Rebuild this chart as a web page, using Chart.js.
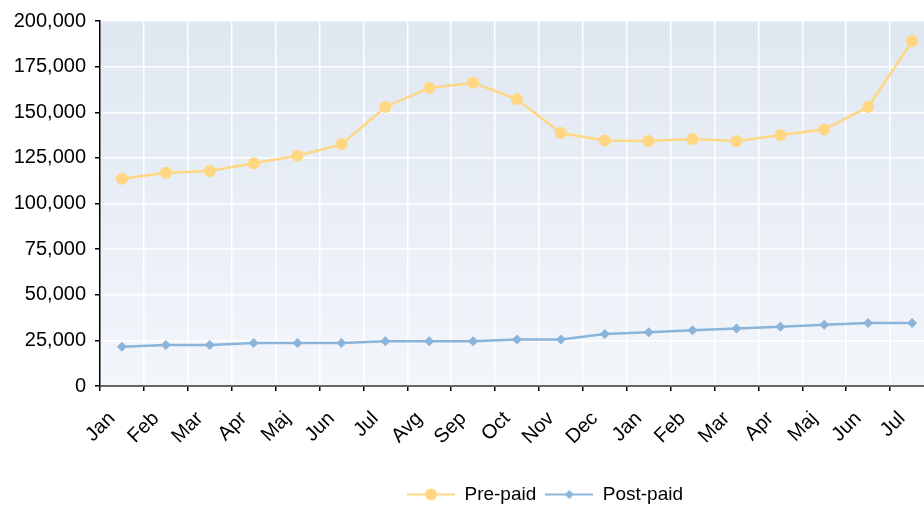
<!DOCTYPE html>
<html>
<head>
<meta charset="utf-8">
<script src="https://cdn.jsdelivr.net/npm/chart.js@4.4.1/dist/chart.umd.min.js"></script>
<style>
  html, body { margin: 0; padding: 0; background: #fff; overflow: hidden; }
  #wrap { width: 1090px; height: 514px; position: relative; }
</style>
</head>
<body>
<div id="wrap"><canvas id="subsChart"></canvas></div>
<script>
const categories = ['Jan', 'Feb', 'Mar', 'Apr', 'Maj', 'Jun', 'Jul', 'Avg', 'Sep', 'Oct', 'Nov', 'Dec',
                    'Jan', 'Feb', 'Mar', 'Apr', 'Maj', 'Jun', 'Jul'];
const prePaid = [113600, 116900, 117800, 122000, 126200, 132400, 152900, 163300, 166200, 157100,
                 138600, 134500, 134200, 135300, 134200, 137500, 140500, 152900, 189000];
const postPaid = [21500, 22500, 22500, 23500, 23500, 23500, 24500, 24500, 24500, 25500,
                  25500, 28500, 29500, 30500, 31500, 32500, 33500, 34500, 34500];
const yMax = 200000;
const yStep = 25000;

const preColor = '#ffd782';
const postColor = '#8ab4da';
const font = { family: '"Liberation Sans", Arial, sans-serif', size: 20 };
const legendFont = { family: '"Liberation Sans", Arial, sans-serif', size: 19 };

// legend sample: short line with the marker in the middle
function legendIcon(color, style) {
    const c = document.createElement('canvas');
    c.width = 48;
    c.height = 14;
    const g = c.getContext('2d');
    g.strokeStyle = color;
    g.lineWidth = 2;
    g.beginPath();
    g.moveTo(0, 7);
    g.lineTo(48, 7);
    g.stroke();
    g.fillStyle = color;
    g.beginPath();
    if (style === 'circle') {
        g.arc(24, 7, 6, 0, Math.PI * 2);
    } else {
        g.moveTo(24, 2.5); g.lineTo(28.5, 7); g.lineTo(24, 11.5); g.lineTo(19.5, 7); g.closePath();
    }
    g.fill();
    return c;
}
const icons = [legendIcon(preColor, 'circle'), legendIcon(postColor, 'diamond')];

const plotBackground = {
    id: 'plotBackground',
    beforeDraw(chart) {
        const { ctx, chartArea: a } = chart;
        const grad = ctx.createLinearGradient(0, a.top, 0, a.bottom);
        grad.addColorStop(0, '#dfe7f1');
        grad.addColorStop(1, '#f3f6fb');
        ctx.save();
        ctx.fillStyle = grad;
        ctx.fillRect(a.left, a.top, a.right - a.left, a.bottom - a.top);
        ctx.restore();
    }
};

const ctx = document.getElementById('subsChart').getContext('2d');
new Chart(ctx, {
    type: 'line',
    data: {
        labels: categories,
        datasets: [{
            label: 'Pre-paid',
            data: prePaid,
            borderColor: preColor,
            backgroundColor: preColor,
            borderWidth: 2.5,
            pointStyle: 'circle',
            pointRadius: 6,
            pointBorderWidth: 0,
            pointHoverRadius: 6,
            tension: 0
        }, {
            label: 'Post-paid',
            data: postPaid,
            borderColor: postColor,
            backgroundColor: postColor,
            borderWidth: 2.5,
            pointStyle: 'rectRot',
            pointRadius: 5,
            pointBorderWidth: 0,
            pointHoverRadius: 5,
            tension: 0
        }]
    },
    options: {
        responsive: true,
        maintainAspectRatio: false,
        animation: false,
        layout: { padding: { top: 20, left: 0, right: 0, bottom: 0 } },
        scales: {
            x: {
                offset: true,
                grid: { offset: true, color: '#ffffff', lineWidth: 1.5, tickColor: '#000', tickLength: 5 },
                border: { display: true, color: '#666', width: 2 },
                ticks: {
                    color: '#000',
                    font: font,
                    autoSkip: false,
                    maxRotation: 45,
                    minRotation: 45,
                    labelOffset: -10,
                    padding: 16
                },
                afterFit(scale) { scale.height = 90; }
            },
            y: {
                min: 0,
                max: yMax,
                ticks: {
                    stepSize: yStep,
                    color: '#000',
                    font: font,
                    padding: 9,
                    callback: v => v.toLocaleString('en-US')
                },
                grid: { color: '#ffffff', lineWidth: 1.5, tickColor: '#000', tickLength: 5 },
                border: { display: true, color: '#000', width: 1.5 },
                afterFit(scale) { scale.width = 100; }
            },
            spacer: {
                type: 'linear',
                position: 'right',
                grid: { display: false, drawTicks: false },
                border: { display: false },
                ticks: { display: false },
                afterFit(scale) { scale.width = 156; }
            }
        },
        plugins: {
            legend: {
                position: 'bottom',
                labels: {
                    color: '#000',
                    font: legendFont,
                    usePointStyle: true,
                    pointStyleWidth: 48,
                    padding: 9,
                    generateLabels(chart) {
                        const items = Chart.defaults.plugins.legend.labels.generateLabels(chart);
                        items.forEach((it, i) => { it.pointStyle = icons[i]; });
                        return items;
                    }
                }
            },
            tooltip: { enabled: false }
        }
    },
    plugins: [plotBackground]
});
</script>
</body>
</html>
